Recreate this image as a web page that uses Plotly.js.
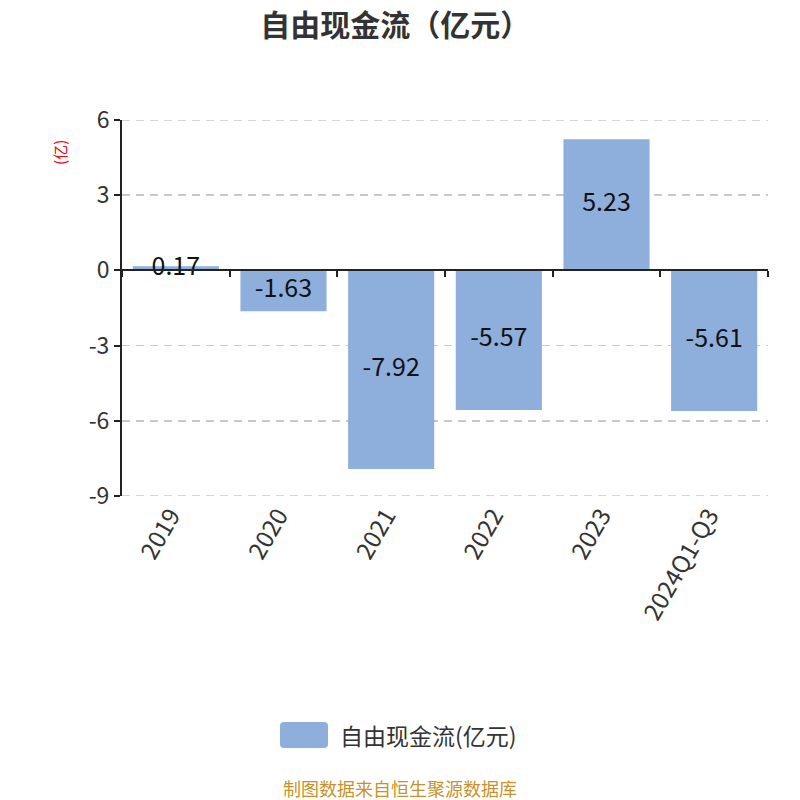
<!DOCTYPE html>
<html>
<head>
<meta charset="utf-8">
<script src="https://cdn.plot.ly/plotly-3.0.1.min.js"></script>
<style>body{margin:0;}#chart{width:800px;height:800px;}</style>
</head>
<body>
<div id="chart"></div>
<script>
const years = ["2019", "2020", "2021", "2022", "2023", "2024Q1-Q3"];
const cashFlow = [0.17, -1.63, -7.92, -5.57, 5.23, -5.61];
const yTicks = [-9, -6, -3, 0, 3, 6];
const seriesName = "自由现金流(亿元)";

const fontFamily = '"Noto Sans CJK SC", "Open Sans", sans-serif';
const barColor = '#8eaedb';
const gridColor = '#c8c8c8';

const bars = {
    x: years.map((_, i) => i),
    y: cashFlow,
    type: 'bar',
    name: seriesName,
    width: 0.8,
    marker: {color: barColor},
    hoverinfo: 'skip',
    showlegend: false
};

// labels sit in the middle of each bar
const labels = {
    x: years.map((_, i) => i),
    y: cashFlow.map(v => v / 2),
    mode: 'text',
    text: cashFlow.map(v => v.toFixed(2)),
    textposition: 'middle center',
    textfont: {size: 25, color: '#111'},
    showlegend: false,
    hoverinfo: 'skip'
};

// invisible trace so the boundary ticks on the zero line get an axis
const zeroTicks = {
    x: [-0.5, 5.5],
    y: [0, 0],
    xaxis: 'x2',
    mode: 'markers',
    marker: {opacity: 0},
    showlegend: false,
    hoverinfo: 'skip'
};

// legend swatch (rounded box) in paper coords
const sw = {x0: 0.2446, x1: 0.3189, y0: -0.670, y1: -0.601, rx: 0.0062, ry: 0.0106};
const swatchPath = 'M ' + (sw.x0 + sw.rx) + ',' + sw.y0 +
    ' L ' + (sw.x1 - sw.rx) + ',' + sw.y0 +
    ' Q ' + sw.x1 + ',' + sw.y0 + ' ' + sw.x1 + ',' + (sw.y0 + sw.ry) +
    ' L ' + sw.x1 + ',' + (sw.y1 - sw.ry) +
    ' Q ' + sw.x1 + ',' + sw.y1 + ' ' + (sw.x1 - sw.rx) + ',' + sw.y1 +
    ' L ' + (sw.x0 + sw.rx) + ',' + sw.y1 +
    ' Q ' + sw.x0 + ',' + sw.y1 + ' ' + sw.x0 + ',' + (sw.y1 - sw.ry) +
    ' L ' + sw.x0 + ',' + (sw.y0 + sw.ry) +
    ' Q ' + sw.x0 + ',' + sw.y0 + ' ' + (sw.x0 + sw.rx) + ',' + sw.y0 + ' Z';

// plotly drops the grid lines that sit on the plot edges, so redraw those
const edgeGrid = [yTicks[0], yTicks[yTicks.length - 1]].map(v => ({
    type: 'line', xref: 'paper', yref: 'y',
    x0: 0, x1: 1, y0: v, y1: v,
    line: {color: gridColor, width: 1.5, dash: '8px,6px'},
    layer: 'below'
}));

const layout = {
    width: 800,
    height: 800,
    margin: {l: 122, r: 32, t: 120, b: 304, autoexpand: false},
    paper_bgcolor: '#fff',
    plot_bgcolor: '#fff',
    font: {family: fontFamily, color: '#333'},
    title: {
        text: '<b>自由现金流（亿元）</b>',
        font: {size: 30, color: '#333'},
        x: 0.494, xanchor: 'center',
        y: 0.968, yanchor: 'middle'
    },
    xaxis: {
        range: [-0.5, 5.5],
        tickvals: years.map((_, i) => i),
        ticktext: years,
        tickangle: -60,
        tickfont: {size: 24, color: '#333'},
        ticklabelshift: -5,
        showgrid: false,
        zeroline: false,
        showline: false,
        ticks: ''
    },
    xaxis2: {
        overlaying: 'x',
        anchor: 'free',
        position: 0.6,
        range: [-0.5, 5.5],
        tickvals: [-0.5, 0.5, 1.5, 2.5, 3.5, 4.5, 5.5],
        showticklabels: false,
        ticks: 'outside',
        ticklen: 6,
        tickwidth: 2,
        tickcolor: '#222',
        showline: true,
        linecolor: '#222',
        linewidth: 2,
        showgrid: false,
        zeroline: false,
        side: 'bottom'
    },
    yaxis: {
        range: [-9, 6],
        tickvals: yTicks,
        ticktext: yTicks.map(String),
        tickfont: {size: 23, color: '#333'},
        showline: true,
        linecolor: '#222',
        linewidth: 2,
        ticks: 'outside',
        ticklen: 6,
        tickwidth: 2,
        tickcolor: '#222',
        showgrid: true,
        gridcolor: gridColor,
        griddash: '8px,6px',
        gridwidth: 1.5,
        zeroline: false
    },
    showlegend: false,
    shapes: [
        {type: 'path', xref: 'paper', yref: 'paper', path: swatchPath,
         fillcolor: barColor, line: {width: 0}}
    ].concat(edgeGrid),
    annotations: [
        {
            text: seriesName,
            xref: 'paper', yref: 'paper',
            x: 0.334, y: -0.636,
            xanchor: 'left', yanchor: 'middle',
            showarrow: false,
            font: {size: 23, color: '#333'}
        },
        {
            text: '(亿)',
            xref: 'paper', yref: 'paper',
            x: -0.096, y: 0.915,
            xanchor: 'center', yanchor: 'middle',
            showarrow: false,
            textangle: -90,
            font: {size: 15, color: 'red'}
        },
        {
            text: '制图数据来自恒生聚源数据库',
            xref: 'paper', yref: 'paper',
            x: 0.43, y: -0.777,
            xanchor: 'center', yanchor: 'middle',
            showarrow: false,
            font: {size: 18, color: '#c8922a'}
        }
    ]
};

Plotly.newPlot('chart', [bars, labels, zeroTicks], layout, {displayModeBar: false, staticPlot: true});
</script>
</body>
</html>
